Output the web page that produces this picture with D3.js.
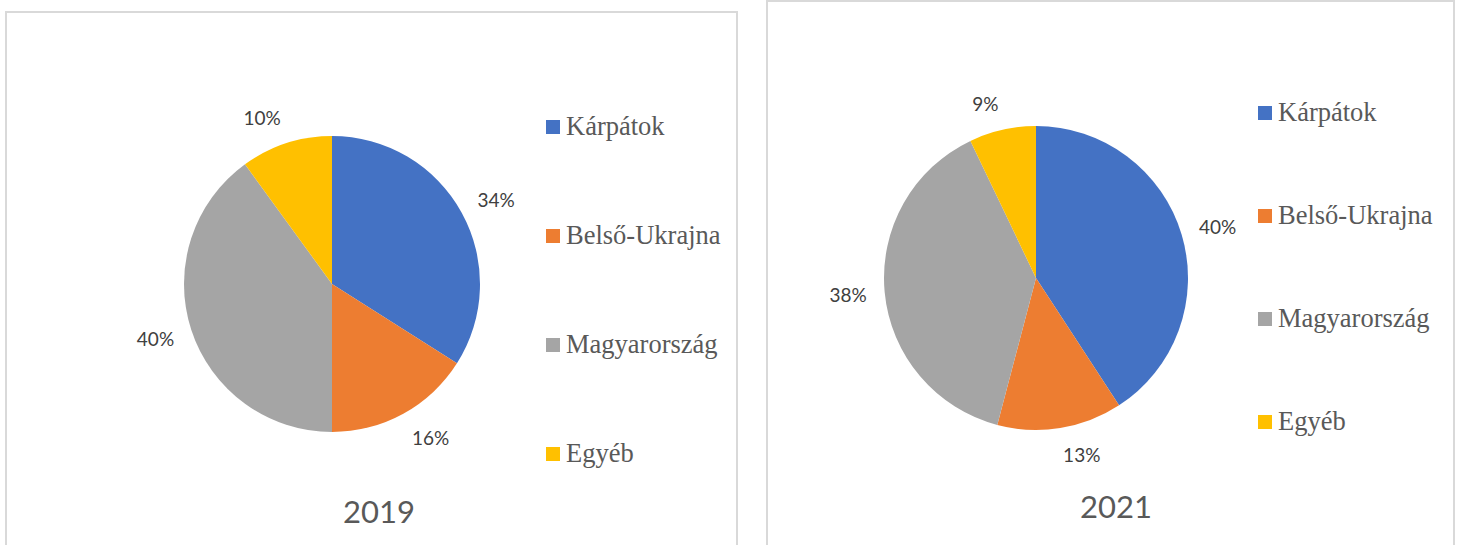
<!DOCTYPE html>
<html>
<head>
<meta charset="utf-8">
<script src="https://cdn.jsdelivr.net/npm/d3@7"></script>
<style>
html,body{margin:0;padding:0;background:#fff;}
svg{display:block;}
</style>
</head>
<body>
<svg id="chart" width="1457" height="545"></svg>
<script>
const categories = ["Kárpátok", "Belső-Ukrajna", "Magyarország", "Egyéb"];
const years = ["2019", "2021"];
const values2019 = [34, 16, 40, 10];
const values2021 = [40.8, 13.3, 38.8, 7.1];
const labels2019 = ["34%", "16%", "40%", "10%"];
const labels2021 = ["40%", "13%", "38%", "9%"];
const colors = ["#4472C4", "#ED7D31", "#A5A5A5", "#FFC000"];

const panels = [
  {year: years[0], values: values2019, labels: labels2019,
   box: [6, 12, 731, 560], cx: 332, cy: 284, r: 148,
   legX: 546, legY0: 127, legStep: 109, titleX: 379, titleY: 523},
  {year: years[1], values: values2021, labels: labels2021,
   box: [767, 1, 687, 570], cx: 1036, cy: 278, r: 152,
   legX: 1258, legY0: 113, legStep: 103, titleX: 1116, titleY: 518}
];

const svg = d3.select("#chart");
const pie = d3.pie().sort(null).value(d => d.v);
const color = d3.scaleOrdinal().domain(categories).range(colors);
const labelGap = 18, labelH = 18;

panels.forEach(p => {
  svg.append("rect")
    .attr("x", p.box[0]).attr("y", p.box[1])
    .attr("width", p.box[2]).attr("height", p.box[3])
    .attr("fill", "#fff").attr("stroke", "#d9d9d9").attr("stroke-width", 2);

  const data = categories.map((c, i) => ({c, v: p.values[i], label: p.labels[i]}));
  const arcs = pie(data);
  const arc = d3.arc().innerRadius(0).outerRadius(p.r);
  const R = p.r + labelGap;
  const g = svg.append("g").attr("transform", `translate(${p.cx},${p.cy})`);

  g.selectAll("path").data(arcs).join("path")
    .attr("d", arc)
    .attr("fill", d => color(d.data.c));

  g.selectAll("text.lbl").data(arcs).join("text")
    .attr("class", "lbl")
    .attr("text-anchor", "middle")
    .attr("dominant-baseline", "central")
    .attr("font-family", "Lato, 'Open Sans', sans-serif")
    .attr("font-size", 19)
    .attr("fill", "#404040")
    .text(d => d.data.label)
    .attr("transform", function(d) {
      const a = (d.startAngle + d.endAngle) / 2;
      const s = Math.sin(a), c = Math.cos(a);
      const w = this.getComputedTextLength();
      const x = R * s + Math.sign(s) * w / 2;
      const y = -R * c - c * labelH / 2;
      return `translate(${x},${y})`;
    });

  const leg = svg.append("g");
  const rows = leg.selectAll("g").data(categories).join("g")
    .attr("transform", (d, i) => `translate(${p.legX},${p.legY0 + i * p.legStep})`);
  rows.append("rect")
    .attr("x", 0).attr("y", -7).attr("width", 14).attr("height", 14)
    .attr("fill", d => color(d));
  rows.append("text")
    .attr("x", 20).attr("y", 8)
    .attr("font-family", "'Liberation Serif', 'Times New Roman', serif")
    .attr("font-size", 26.5)
    .attr("fill", "#595959")
    .text(d => d);

  svg.append("text")
    .attr("x", p.titleX).attr("y", p.titleY)
    .attr("text-anchor", "middle")
    .attr("font-family", "Lato, 'Open Sans', sans-serif")
    .attr("font-size", 31)
    .attr("fill", "#595959")
    .text(p.year);
});
</script>
</body>
</html>
